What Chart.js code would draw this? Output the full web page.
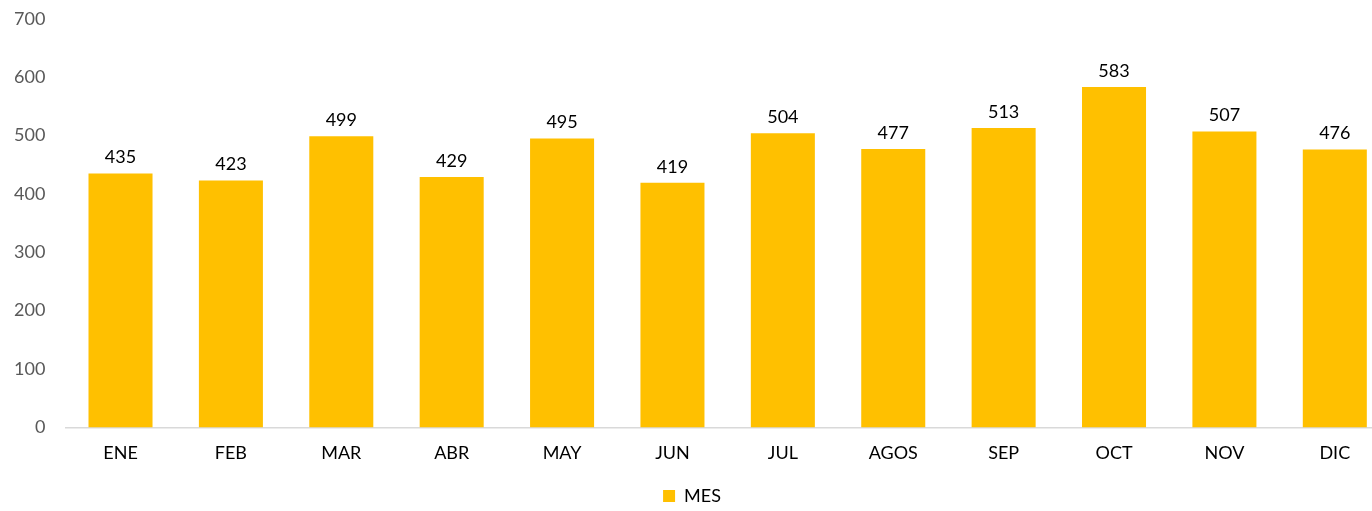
<!DOCTYPE html>
<html>
<head>
<meta charset="utf-8">
<script src="https://cdn.jsdelivr.net/npm/chart.js@4.4.1/dist/chart.umd.min.js"></script>
<style>
  html, body { margin: 0; padding: 0; background: #fff; overflow: hidden; }
  #wrap { width: 1398px; height: 527px; margin: -12px 0 0 -6px; position: relative; }
</style>
</head>
<body>
<div id="wrap"><canvas id="grafik"></canvas></div>
<script>
const meses = ["ENE", "FEB", "MAR", "ABR", "MAY", "JUN", "JUL", "AGOS", "SEP", "OCT", "NOV", "DIC"];
const valores = [435, 423, 499, 429, 495, 419, 504, 477, 513, 583, 507, 476];
const serie = "MES";

const fuente = "Lato, 'Open Sans', sans-serif";

// etiquetas encima de cada barra
const etiquetas = {
  id: "etiquetas",
  afterDatasetsDraw(chart) {
    const ctx = chart.ctx;
    const meta = chart.getDatasetMeta(0);
    ctx.save();
    ctx.font = "18px " + fuente;
    ctx.fillStyle = "#000";
    ctx.textAlign = "center";
    ctx.textBaseline = "bottom";
    meta.data.forEach((bar, i) => {
      ctx.fillText(valores[i], bar.x, bar.y - 7);
    });
    ctx.restore();
  },
};

new Chart(document.getElementById("grafik"), {
  type: "bar",
  data: {
    labels: meses,
    datasets: [{
      label: serie,
      data: valores,
      backgroundColor: "#FFC000",
      categoryPercentage: 1,
      barPercentage: 0.58,
    }],
  },
  options: {
    responsive: true,
    maintainAspectRatio: false,
    animation: false,
    layout: { padding: { top: 0, left: 0, right: 2, bottom: 0 } },
    plugins: {
      tooltip: { enabled: false },
      legend: {
        position: "bottom",
        labels: {
          boxWidth: 12,
          boxHeight: 12,
          color: "#000",
          padding: 8,
          font: { size: 18, family: fuente },
        },
      },
    },
    scales: {
      x: {
        grid: { display: false, drawTicks: false },
        border: { color: "#d9d9d9", width: 1.5 },
        ticks: { color: "#000", padding: 15, font: { size: 18, family: fuente } },
      },
      y: {
        min: 0,
        max: 700,
        ticks: { stepSize: 100, color: "#595959", padding: 20, font: { size: 18, family: fuente } },
        grid: { display: false, drawTicks: false },
        border: { display: false },
      },
    },
  },
  plugins: [etiquetas],
});
</script>
</body>
</html>
